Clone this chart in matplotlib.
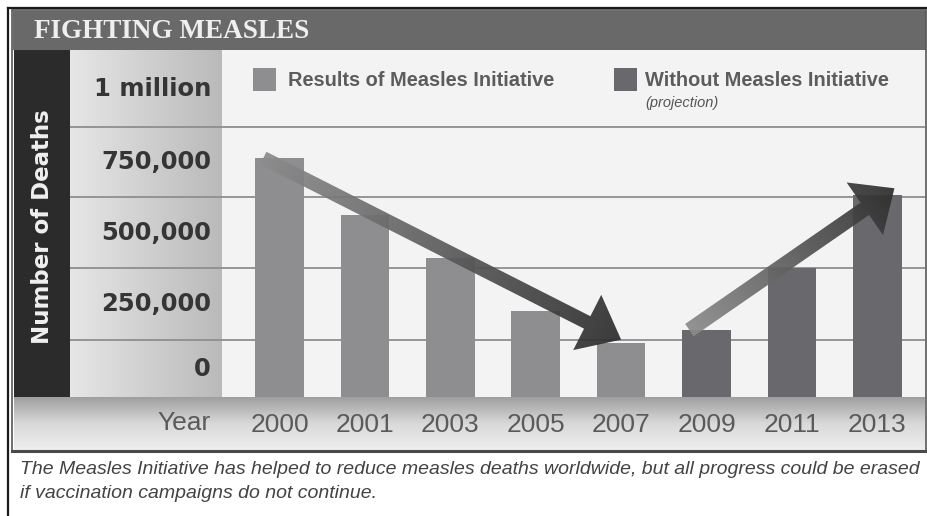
import numpy as np
import matplotlib
matplotlib.use('Agg')
import matplotlib.pyplot as plt
from matplotlib.patches import Rectangle, FancyArrow
from matplotlib.colors import LinearSegmentedColormap

years = ['2000', '2001', '2003', '2005', '2007', '2009', '2011', '2013']
results = [750000, 570000, 435000, 270000, 170000]
projection = [210000, 405000, 635000]
value_labels = ['0', '250,000', '500,000', '750,000', '1 million']
caption = ['The Measles Initiative has helped to reduce measles deaths worldwide, but all progress could be erased',
           'if vaccination campaigns do not continue.']

W, H = 928, 516
res_color = '#8e8e90'
proj_color = '#69696d'

fig = plt.figure(figsize=(W / 100, H / 100), dpi=100)


def px_rect(x0, y0, x1, y1):
    return [x0 / W, 1 - y1 / H, (x1 - x0) / W, (y1 - y0) / H]


# background layer in pixel coords (y down)
bg = fig.add_axes([0, 0, 1, 1])
bg.axis('off')

bg.add_patch(Rectangle((13, 11), 913, 39, fc='#696969', ec='none'))
bg.add_patch(Rectangle((14, 50), 56, 347, fc='#2b2b2b', ec='none'))
bg.add_patch(Rectangle((222, 50), 703, 347, fc='#f3f3f3', ec='none'))
cmap_col = LinearSegmentedColormap.from_list('col', ['#e6e6e6', '#bababa'])
bg.imshow(np.linspace(0, 1, 200)[None, :], extent=(70, 222, 50, 397), origin='lower',
          cmap=cmap_col, aspect='auto', interpolation='bilinear')
cmap_band = LinearSegmentedColormap.from_list('band', ['#9f9f9f', '#d9d9d9', '#eeeeee'])
bg.imshow(np.linspace(0, 1, 100)[:, None], extent=(14, 925, 397, 450), origin='lower',
          cmap=cmap_band, aspect='auto', interpolation='bilinear')

# band edges of the value scale
band_edges = [397, 340, 268, 197, 127, 50]
for r in band_edges[1:-1]:
    bg.plot([70, 925], [r, r], color='#8e8e8e', lw=1.3, solid_capstyle='butt')

# frames
bg.add_patch(Rectangle((12.5, 10), 914, 442, fill=False, ec='#555555', lw=1.2))
bg.plot([12, 927], [451, 451], color='#4a4a4a', lw=2.2)
bg.plot([8, 928], [8, 8], color='#1a1a1a', lw=1.6)
bg.plot([8, 8], [8, 516], color='#1a1a1a', lw=1.6)

bg.text(34, 31, 'FIGHTING MEASLES', family='Liberation Serif', weight='bold',
        size=19.5, color='#efefef', va='center')
for i, lab in enumerate(value_labels):
    yc = (band_edges[i] + band_edges[i + 1]) / 2
    bg.text(211, yc, lab, ha='right', va='center', family='DejaVu Sans',
            weight='bold', size=17.5, color='#353535')
bg.text(43, 227, 'Number of Deaths', rotation=90, ha='center', va='center',
        family='DejaVu Sans', weight='bold', size=16.5, color='#f0f0f0')
bg.text(211, 423, 'Year', ha='right', va='center', family='Liberation Sans',
        size=19, color='#5a5a5a')
bg.text(20, 470, caption[0], va='center', family='Liberation Sans', style='italic',
        size=14, color='#434343')
bg.text(20, 493, caption[1], va='center', family='Liberation Sans', style='italic',
        size=14, color='#434343')
bg.set_xlim(0, W)
bg.set_ylim(H, 0)

# main chart
ax = fig.add_axes(px_rect(222, 50, 925, 397), zorder=1)
ax.set_facecolor('none')
x = np.arange(len(years))
ax.bar(x[:len(results)], results, width=0.57, color=res_color)
ax.bar(x[len(results):], projection, width=0.57, color=proj_color)
ax.set_xlim(-0.673, 7.558)
ax.set_ylim(0, 1089000)
ax.set_yticks([])
ax.set_xticks(x, years)
ax.tick_params(axis='x', length=0, pad=11.5, labelsize=19, labelcolor='#5a5a5a')
for lbl in ax.get_xticklabels():
    lbl.set_fontfamily('Liberation Sans')
for s in ax.spines.values():
    s.set_visible(False)

# overlay for arrows and legend
ov = fig.add_axes([0, 0, 1, 1], zorder=3)
ov.set_facecolor('none')
ov.axis('off')
ov.set_xlim(0, W)
ov.set_ylim(H, 0)


def to_px(xv, yv):
    return ov.transData.inverted().transform(ax.transData.transform((xv, yv)))


cmap_arr = LinearSegmentedColormap.from_list('arr', ['#8c8c8c', '#2e2e2e'])


def grad_arrow(p0, p1, width, head_w, head_l):
    (x0, y0), (x1, y1) = to_px(*p0), to_px(*p1)
    dx, dy = x1 - x0, y1 - y0
    arr = FancyArrow(x0, y0, dx, dy, width=width, head_width=head_w, head_length=head_l,
                     length_includes_head=True, fc='none', ec='none')
    ov.add_patch(arr)
    xmin, xmax = min(x0, x1) - 40, max(x0, x1) + 40
    ymin, ymax = min(y0, y1) - 40, max(y0, y1) + 40
    X, Y = np.meshgrid(np.linspace(xmin, xmax, 300), np.linspace(ymin, ymax, 300))
    t = ((X - x0) * dx + (Y - y0) * dy) / (dx * dx + dy * dy)
    im = ov.imshow(t, extent=(xmin, xmax, ymin, ymax), origin='lower', cmap=cmap_arr,
                   vmin=0, vmax=1, aspect='auto', interpolation='bilinear', alpha=0.93)
    im.set_clip_path(arr)


grad_arrow((-0.19, results[0]), (4, results[4] + 10000), 14, 62, 38)
grad_arrow((4.8, projection[0]), (7.2, projection[2] + 20000), 15, 64, 36)

# legend
ov.add_patch(Rectangle((253, 68), 23, 23, fc=res_color, ec='none'))
ov.text(288, 81, 'Results of Measles Initiative', va='center', family='Liberation Sans',
        weight='bold', size=14.4, color='#5c5c5c')
ov.add_patch(Rectangle((614, 68), 23, 23, fc=proj_color, ec='none'))
ov.text(645, 81, 'Without Measles Initiative', va='center', family='Liberation Sans',
        weight='bold', size=14.4, color='#5c5c5c')
ov.text(645, 103, '(projection)', va='center', family='Liberation Sans', style='italic',
        size=10.5, color='#555555')
ov.set_xlim(0, W)
ov.set_ylim(H, 0)

fig.savefig('out.png', dpi=100)
